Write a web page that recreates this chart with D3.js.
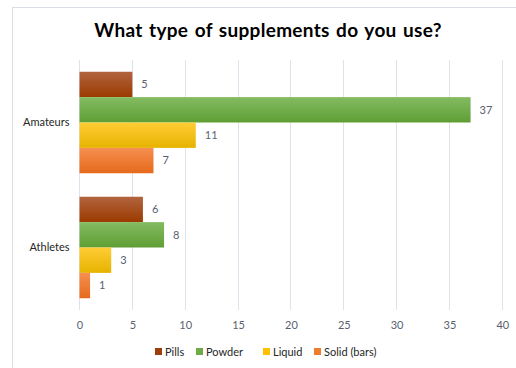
<!DOCTYPE html>
<html>
<head>
<meta charset="utf-8">
<script src="https://cdn.jsdelivr.net/npm/d3@7"></script>
<style>
  html, body { margin: 0; padding: 0; background: #fff; }
  svg { display: block; font-family: Lato, "Open Sans", sans-serif; }
</style>
</head>
<body>
<svg id="chart" width="516" height="368"></svg>
<script>
// Survey answers per group and supplement type
const categories = ["Amateurs", "Athletes"];
const seriesNames = ["Pills", "Powder", "Liquid", "Solid (bars)"];
const pills = [5, 6];
const powder = [37, 8];
const liquid = [11, 3];
const solid = [7, 1];
const xTicks = [0, 5, 10, 15, 20, 25, 30, 35, 40];

const seriesValues = [pills, powder, liquid, solid];
const colors = [
  { top: "#b2643f", bottom: "#9b3a00", flat: "#9e3d0c" },
  { top: "#84bb62", bottom: "#5f9e34", flat: "#6faa45" },
  { top: "#ffcd35", bottom: "#e6b300", flat: "#ffc000" },
  { top: "#f68f51", bottom: "#e66a1b", flat: "#ed7d31" }
];

const svg = d3.select("#chart");
const margin = { left: 79.5, right: 13.7, top: 60, bottom: 58 };
const W = 516, H = 368;

// chart frame
svg.append("rect")
  .attr("x", 12.5).attr("y", 7.5)
  .attr("width", 520).attr("height", 380)
  .attr("fill", "#fff").attr("stroke", "#d9dde6").attr("stroke-width", 1);

// gradients
const defs = svg.append("defs");
colors.forEach((c, i) => {
  const g = defs.append("linearGradient")
    .attr("id", "grad" + i).attr("x1", 0).attr("y1", 0).attr("x2", 0).attr("y2", 1);
  g.append("stop").attr("offset", "0%").attr("stop-color", c.top);
  g.append("stop").attr("offset", "100%").attr("stop-color", c.bottom);
});

const x = d3.scaleLinear().domain([0, 40]).range([margin.left, W - margin.right]);
const y = d3.scaleBand().domain(categories).range([margin.top, H - margin.bottom])
  .paddingInner(0.188).paddingOuter(0.094);
const ySeries = d3.scaleBand().domain(seriesNames).range([0, y.bandwidth()]);

// title
svg.append("text")
  .attr("x", 268).attr("y", 37)
  .attr("text-anchor", "middle")
  .attr("font-size", 19).attr("font-weight", "bold").attr("fill", "#000")
  .attr("letter-spacing", 0.3).attr("word-spacing", 1.5)
  .text("What type of supplements do you use?");

// vertical gridlines
svg.append("g")
  .selectAll("line").data(xTicks).join("line")
  .attr("x1", d => x(d)).attr("x2", d => x(d))
  .attr("y1", margin.top).attr("y2", H - margin.bottom)
  .attr("stroke", "#dfe2ea").attr("stroke-width", 1)
  .attr("shape-rendering", "crispEdges");

// x axis tick labels
const xAxis = d3.axisBottom(x).tickValues(xTicks).tickSize(0).tickPadding(11);
const gx = svg.append("g").attr("transform", `translate(0,${H - margin.bottom})`).call(xAxis);
gx.select(".domain").remove();
gx.selectAll("text").attr("font-size", 11).attr("fill", "#595f6e").attr("font-family", "Lato, sans-serif");

// category labels
const yAxis = d3.axisLeft(y).tickSize(0).tickPadding(10);
const gy = svg.append("g").attr("transform", `translate(${margin.left},0)`).call(yAxis);
gy.select(".domain").remove();
gy.selectAll("text").attr("font-size", 11).attr("fill", "#262626").attr("font-family", "Lato, sans-serif");

// bars and value labels
seriesValues.forEach((vals, si) => {
  const g = svg.append("g");
  g.selectAll("rect").data(vals).join("rect")
    .attr("x", x(0))
    .attr("y", (d, i) => y(categories[i]) + ySeries(seriesNames[si]))
    .attr("width", d => x(d) - x(0))
    .attr("height", ySeries.bandwidth())
    .attr("fill", `url(#grad${si})`);
  g.selectAll("text").data(vals).join("text")
    .attr("x", d => x(d) + 9)
    .attr("y", (d, i) => y(categories[i]) + ySeries(seriesNames[si]) + ySeries.bandwidth() / 2)
    .attr("dy", "0.35em")
    .attr("font-size", 11).attr("fill", "#595f6e")
    .text(d => d);
});

// legend
const legendX = [155, 196, 263, 314];
const legend = svg.append("g");
seriesNames.forEach((name, i) => {
  legend.append("rect")
    .attr("x", legendX[i]).attr("y", 348)
    .attr("width", 7).attr("height", 7)
    .attr("fill", colors[i].flat);
  legend.append("text")
    .attr("x", legendX[i] + 10).attr("y", 352).attr("dy", "0.35em")
    .attr("font-size", 11).attr("fill", "#262626")
    .text(name);
});
</script>
</body>
</html>
